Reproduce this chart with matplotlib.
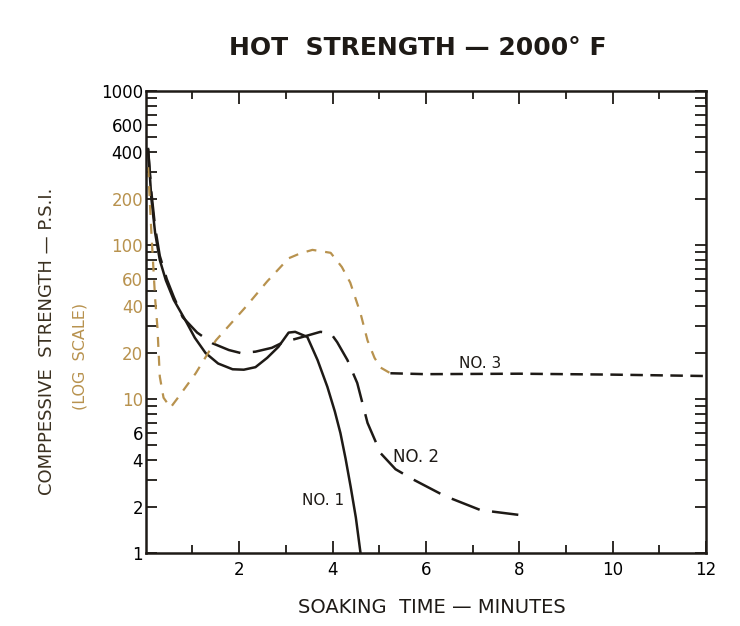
import matplotlib.pyplot as plt
from matplotlib.ticker import FixedLocator, NullFormatter

# curves (soaking time in minutes, strength in psi)
no1_x = [0.05, 0.12, 0.2, 0.3, 0.43, 0.6, 0.86, 1.05, 1.28, 1.55, 1.86, 2.1, 2.35, 2.6, 2.84, 3.06, 3.2, 3.46, 3.68, 3.89, 4.05, 4.17, 4.28, 4.39, 4.5, 4.6]
no1_y = [420, 200, 120, 80, 59, 44, 32, 25, 19.9, 17.0, 15.6, 15.5, 16.1, 18.5, 21.8, 27.0, 27.3, 25.3, 17.9, 12.0, 8.3, 6.0, 4.1, 2.68, 1.7, 1.0]

no2_x = [0.05, 0.12, 0.2, 0.3, 0.45, 0.6, 0.79, 1.1, 1.43, 1.78, 2.03, 2.35, 2.7, 2.95, 3.3, 3.74, 3.96, 4.1, 4.32, 4.53, 4.75, 5.03, 5.35, 5.73, 6.4, 7.17, 7.98]
no2_y = [420, 220, 130, 85, 60, 46, 34, 27, 23, 20.8, 19.9, 20.3, 21.5, 23.4, 25, 27.3, 26.8, 23.4, 17.9, 12.7, 7.0, 4.45, 3.5, 3.0, 2.35, 1.9, 1.77]

no3_x = [0.05, 0.12, 0.2, 0.25, 0.3, 0.38, 0.53, 0.7, 1.07, 1.5, 2.14, 2.6, 3.06, 3.3, 3.57, 3.96, 4.2, 4.38, 4.6, 4.75, 4.9, 5.03, 5.24, 6.0, 8.0, 10.0, 12.0]
no3_y = [320, 120, 45, 29, 14, 10.2, 8.8, 10.3, 14.7, 24, 39.6, 58, 82, 88, 93, 89, 72, 57, 36, 24, 18.5, 16, 14.7, 14.5, 14.6, 14.4, 14.1]
no3_split = 22  # ink turns dark from here on

y_ticks = [1, 2, 4, 6, 10, 20, 40, 60, 100, 200, 400, 600, 1000]
y_labels = ["1", "2", "4", "6", "10", "20", "40", "60", "100", "200", "400", "600", "1000"]
x_major = [2, 4, 6, 8, 10, 12]
x_minor = [1, 3, 5, 7, 9, 11]

ink = "#1e1a16"
tan = "#b8924e"

fig = plt.figure(figsize=(7.4, 6.26), dpi=100)
ax = fig.add_axes([0.197, 0.1166, 0.757, 0.738])

ax.plot(no1_x, no1_y, color=ink, lw=1.8)
ax.plot(no2_x, no2_y, color=ink, lw=1.8, dashes=(12, 5))
ax.plot(no3_x[:no3_split + 1], no3_y[:no3_split + 1], color=tan, lw=1.6, dashes=(4.5, 4))
ax.plot(no3_x[no3_split:], no3_y[no3_split:], color=ink, lw=1.8, dashes=(5, 3))

ax.set_yscale("log")
ax.set_xlim(0, 12)
ax.set_ylim(1, 1000)

ax.yaxis.set_major_locator(FixedLocator(y_ticks))
ax.set_yticklabels(y_labels)
ax.yaxis.set_minor_locator(FixedLocator([v * 10 ** d for d in range(3) for v in range(1, 10)]))
ax.yaxis.set_minor_formatter(NullFormatter())
ax.set_xticks(x_major)
ax.set_xticks(x_minor, minor=True)

ax.tick_params(which="both", direction="in", top=True, right=True, width=1.3, color=ink)
ax.tick_params(axis="x", which="major", length=9, labelsize=12, pad=6)
ax.tick_params(axis="x", which="minor", length=6)
ax.tick_params(axis="y", which="both", length=8, labelsize=12, pad=2)
for lab in ax.get_yticklabels():
    if lab.get_text() in ("10", "20", "40", "60", "100", "200"):
        lab.set_color(tan)

for s in ax.spines.values():
    s.set_linewidth(1.8)
    s.set_color(ink)

ax.text(3.8, 2.2, "NO. 1", fontsize=11, color=ink, ha="center", va="center")
ax.text(5.3, 4.2, "NO. 2", fontsize=12, color=ink, ha="left", va="center")
ax.text(7.17, 17.1, "NO. 3", fontsize=11, color=ink, ha="center", va="center")

fig.text(0.564, 0.923, "HOT  STRENGTH — 2000° F", fontsize=18, fontweight="bold",
         ha="center", va="center", color=ink)
fig.text(0.584, 0.030, "SOAKING  TIME — MINUTES", fontsize=14, ha="center", va="center", color=ink)
fig.text(0.064, 0.455, "COMPPESSIVE  STRENGTH — P.S.I.", fontsize=13, rotation=90,
         ha="center", va="center", color="#3a3020")
fig.text(0.108, 0.43, "(LOG  SCALE)", fontsize=11.5, rotation=90, ha="center", va="center", color=tan)

fig.savefig("out.png", dpi=100)
